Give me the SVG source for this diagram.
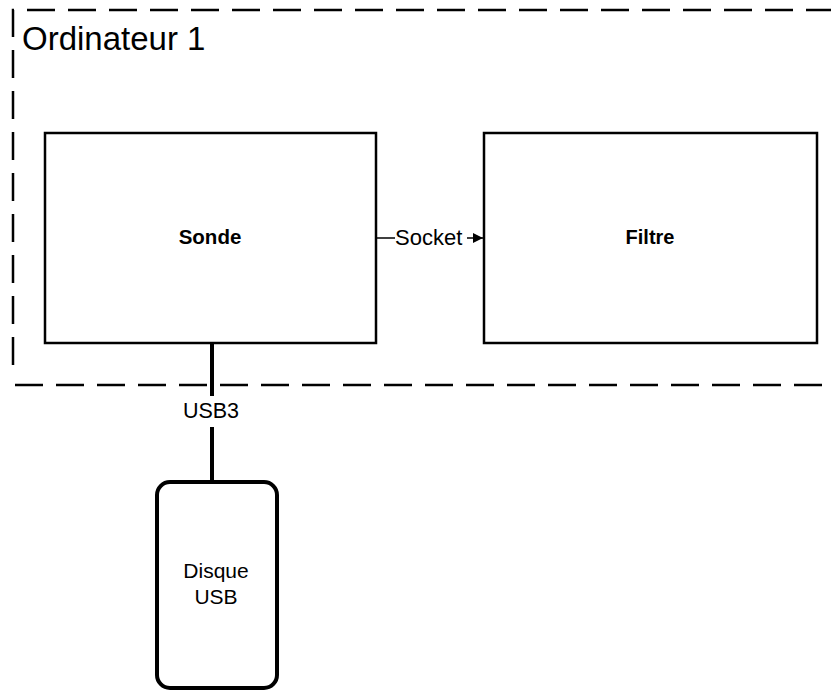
<svg xmlns="http://www.w3.org/2000/svg" width="831" height="693" viewBox="0 0 831 693">
<style>
.box{fill:#fff;stroke:#000;stroke-width:2.5}
.dash{fill:none;stroke:#000;stroke-width:2.5;stroke-dasharray:28 13}
.t{font-family:"Liberation Sans",Arial,sans-serif;fill:#000}
</style>
<defs>
<marker id="arr" markerWidth="12" markerHeight="12" refX="10" refY="6" orient="auto" markerUnits="userSpaceOnUse">
<path d="M0,1 L10,6 L0,11 Z" fill="#000"/>
</marker>
</defs>
<rect width="831" height="693" fill="#fff"/>
<g id="ordinateur1">
<path class="dash" d="M13,365 L13,10 L831,10"/>
<path class="dash" d="M15,385 L831,385"/>
<text class="t" x="22" y="50" font-size="33">Ordinateur 1</text>
</g>
<g id="sonde">
<rect class="box" x="45" y="133" width="331" height="210"/>
<text class="t" x="210" y="244" font-size="20.5" font-weight="bold" text-anchor="middle">Sonde</text>
</g>
<g id="filtre">
<rect class="box" x="484" y="133" width="333" height="210"/>
<text class="t" x="650" y="244" font-size="20" font-weight="bold" text-anchor="middle">Filtre</text>
</g>
<g id="disque">
<rect x="157" y="482" width="120" height="206" rx="13" fill="#fff" stroke="#000" stroke-width="4"/>
<text class="t" x="216" y="578" font-size="21" text-anchor="middle">Disque</text>
<text class="t" x="216" y="604" font-size="21" text-anchor="middle">USB</text>
</g>
<g id="connectors">
<line x1="377" y1="238" x2="395" y2="238" stroke="#000" stroke-width="1.5"/>
<text class="t" x="395" y="245" font-size="22">Socket</text>
<line x1="467" y1="238" x2="483" y2="238" stroke="#000" stroke-width="1.5" marker-end="url(#arr)"/>
<line x1="212" y1="343" x2="212" y2="396" stroke="#000" stroke-width="4"/>
<text class="t" x="211" y="418" font-size="21.5" text-anchor="middle">USB3</text>
<line x1="212" y1="427" x2="212" y2="482" stroke="#000" stroke-width="4"/>
</g>
</svg>
